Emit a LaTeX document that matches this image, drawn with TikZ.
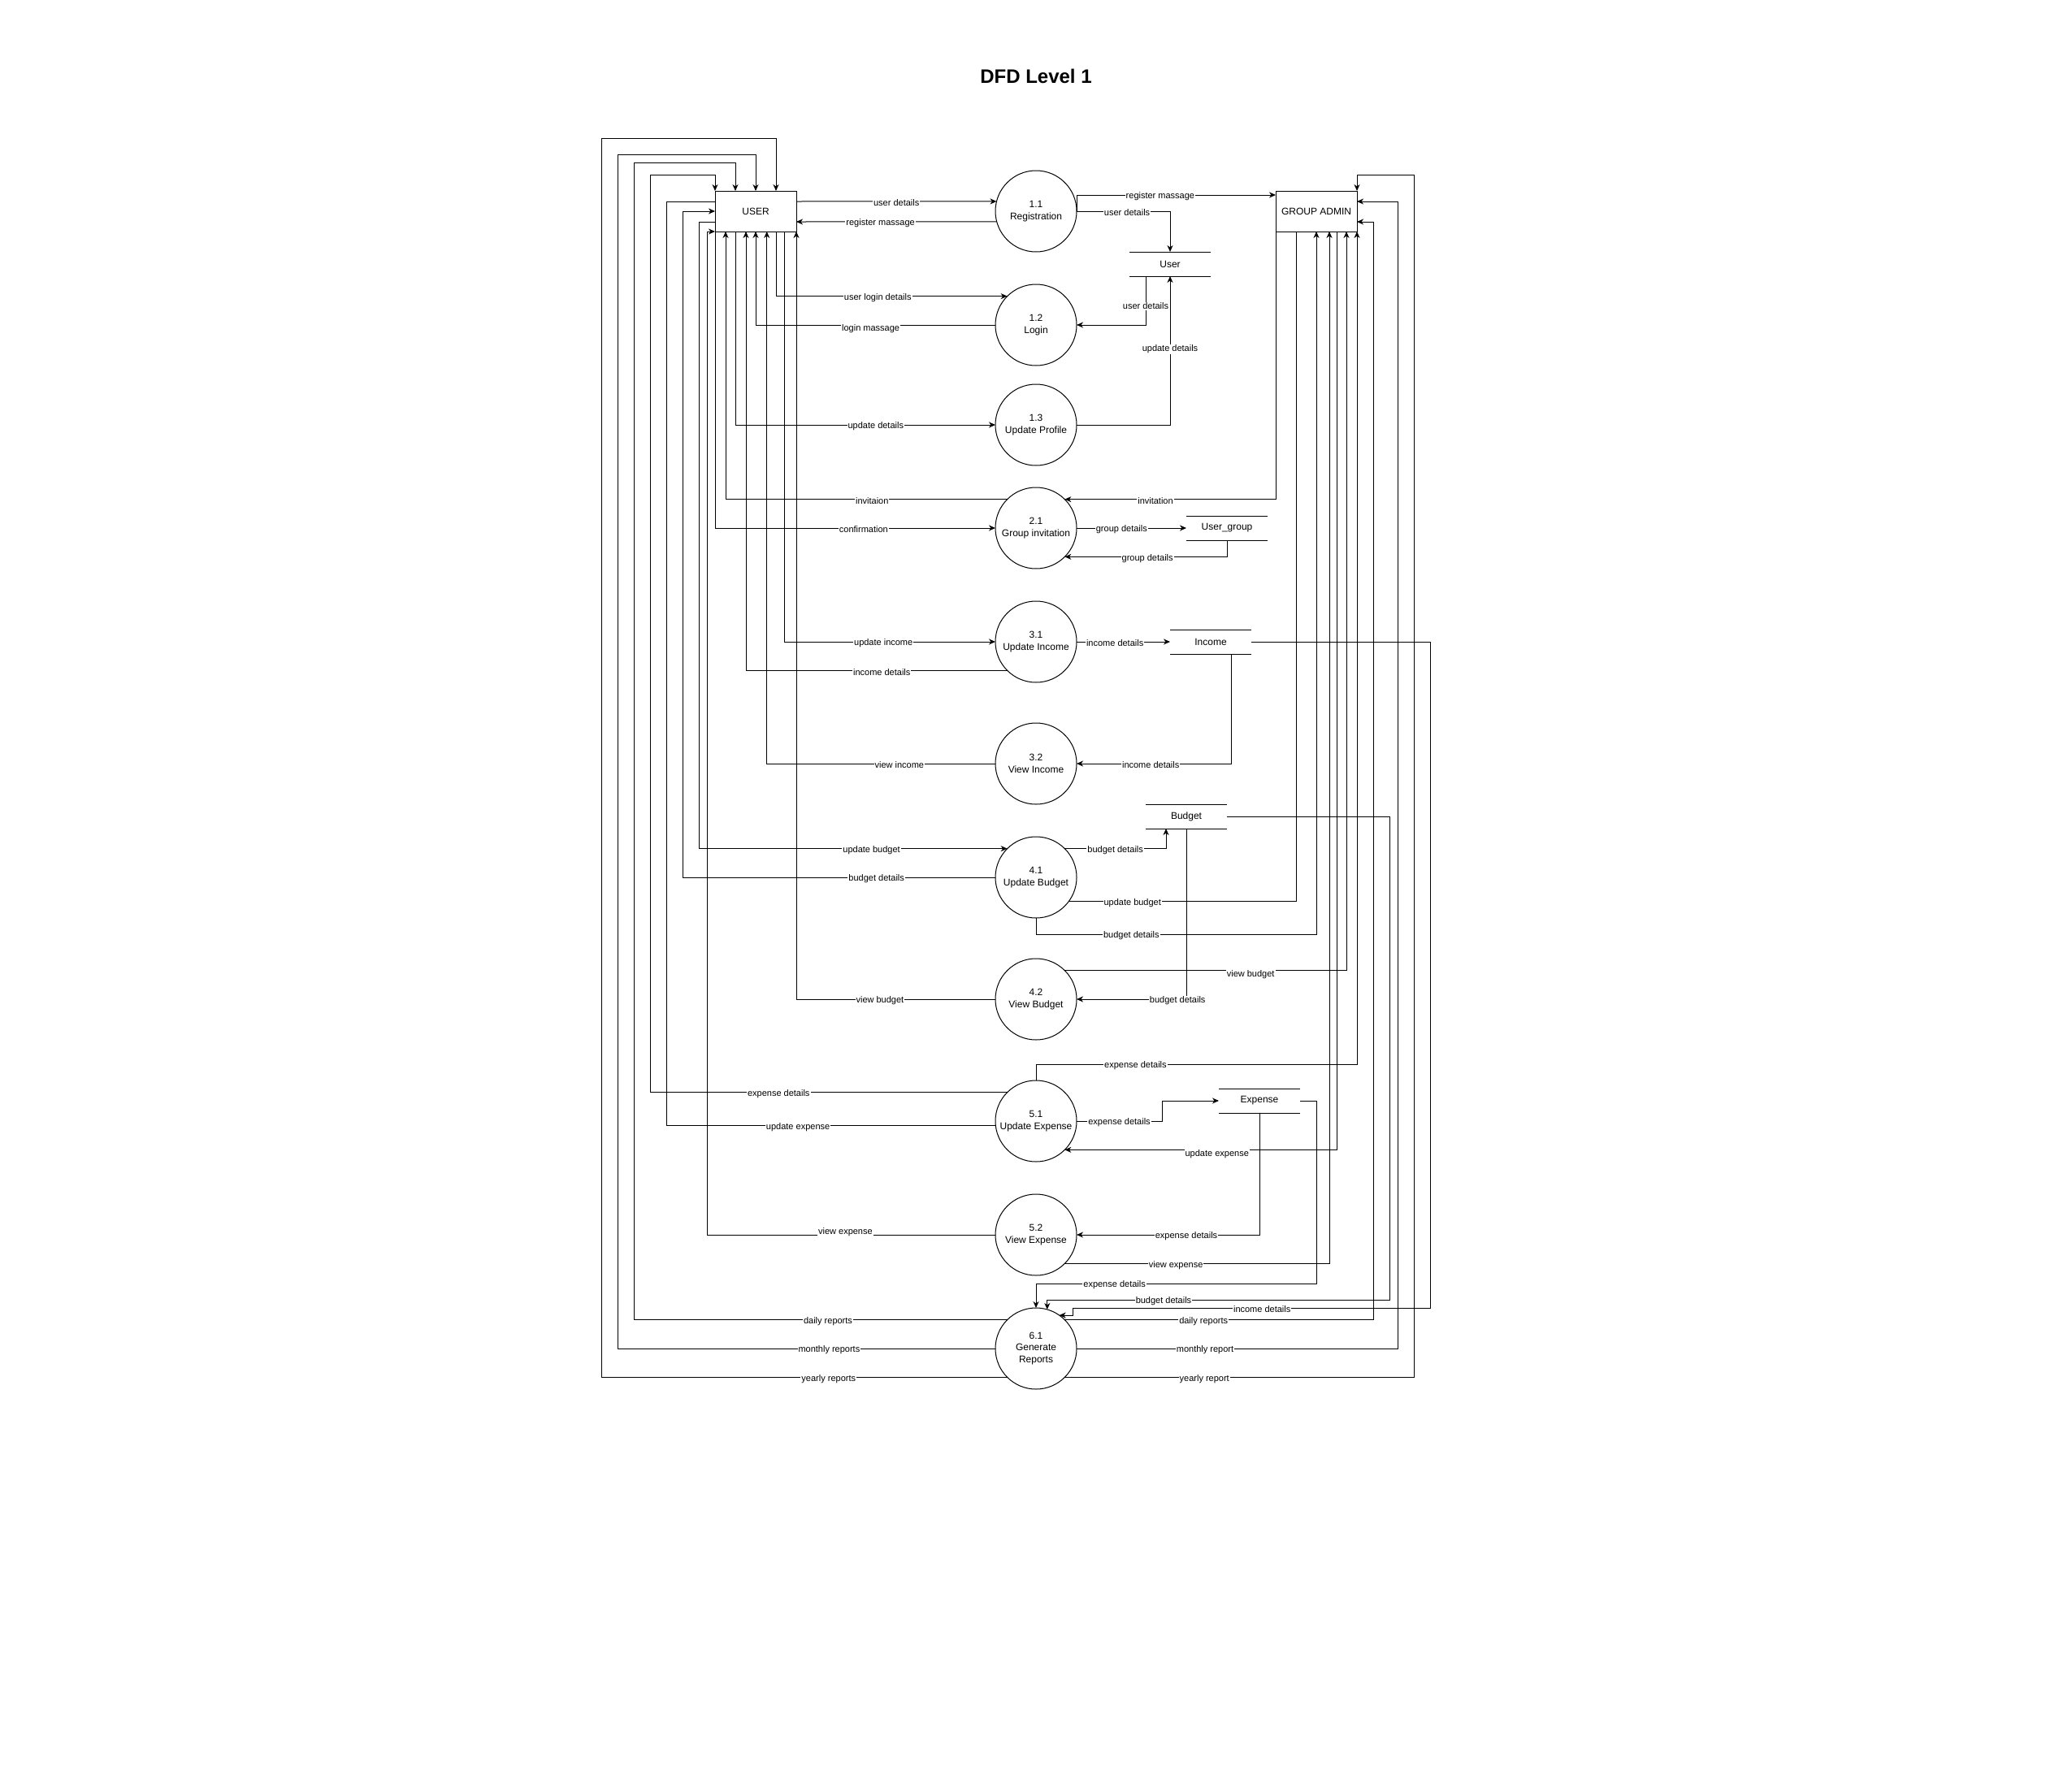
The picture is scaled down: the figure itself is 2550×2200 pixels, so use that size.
\documentclass[tikz,border=0pt]{standalone}
\usepackage{fontspec}
\setmainfont{Liberation Sans}
\usetikzlibrary{arrows.meta,calc}

\begin{document}
\begin{tikzpicture}[x=1pt,y=-1pt,
  line width=1pt,
  every node/.style={font=\fontsize{12}{15}\selectfont},
  entity/.style={draw, rectangle, minimum width=100pt, minimum height=50pt, inner sep=0pt, outer sep=0pt},
  process/.style={draw, circle, minimum size=100pt, inner sep=0pt, outer sep=0pt, align=center},
  datastore/.style={rectangle, minimum width=100pt, minimum height=30pt, inner sep=0pt, outer sep=0pt},
  flow/.style={-{Stealth[length=8pt,width=7pt,inset=2.5pt]}},
  lbl/.style={fill=white, inner sep=1pt, yshift=-2pt, font=\fontsize{11}{13}\selectfont},
]
\fill[white] (0,0) rectangle (2550,2200);
\useasboundingbox (0,0) rectangle (2550,2200);

% title
\node[font=\fontsize{24}{28}\selectfont\bfseries] (title) at (1275,94) {DFD Level 1};

% external entities
\node[entity] (user) at (930,260) {USER};
\node[entity] (ga) at (1620,260) {GROUP ADMIN};

% processes
\node[process] (p11) at (1275,260)  {1.1\\Registration};
\node[process] (p12) at (1275,400)  {1.2\\Login};
\node[process] (p13) at (1275,523)  {1.3\\Update Profile};
\node[process] (p21) at (1275,650)  {2.1\\Group invitation};
\node[process] (p31) at (1275,790)  {3.1\\Update Income};
\node[process] (p32) at (1275,940)  {3.2\\View Income};
\node[process] (p41) at (1275,1080) {4.1\\Update Budget};
\node[process] (p42) at (1275,1230) {4.2\\View Budget};
\node[process] (p51) at (1275,1380) {5.1\\Update Expense};
\node[process] (p52) at (1275,1520) {5.2\\View Expense};
\node[process, font=\fontsize{12}{14.5}\selectfont] (p61) at (1275,1660) {6.1\\Generate\\Reports};

% data stores
\node[datastore] (sUser)    at (1440,325)  {User};
\node[datastore] (sGroup)   at (1510,650)  {User\_group};
\node[datastore] (sIncome)  at (1490,790)  {Income};
\node[datastore] (sBudget)  at (1460,1005) {Budget};
\node[datastore] (sExpense) at (1550,1355) {Expense};
\foreach \s in {sUser,sGroup,sIncome,sBudget,sExpense} {
  \draw (\s.north west) -- (\s.north east) (\s.south west) -- (\s.south east);
}

% 1.x registration / login / profile
\draw[flow] ([yshift=12pt]user.east) -- node[lbl]{user details} (p11.166);
\draw[flow] (p11.195) -- node[lbl,pos=0.58]{register massage} ([yshift=-13pt]user.east);
\draw[flow] (p11.east) |- node[lbl,pos=0.71]{register massage} ([yshift=20pt]ga.west);
\draw[flow] (p11.east) -| node[lbl,pos=0.27]{user details} (sUser.north);
\draw[flow] ([xshift=25pt]user.south) |- node[lbl,pos=0.72]{user login details} (p12.north west);
\draw[flow] (p12.west) -| node[lbl,pos=0.26,yshift=-3pt]{login massage} (user.south);
\draw[flow] ([xshift=-30pt]sUser.south) |- node[lbl,pos=0.29]{user details} (p12.east);
\draw[flow] ([xshift=-25pt]user.south) |- node[lbl,pos=0.77]{update details} (p13.west);
\draw[flow] (p13.east) -| node[lbl,pos=0.76]{update details} (sUser.south);

% 2.1 group invitation
\draw[flow] (ga.south west) |- node[lbl,pos=0.785]{invitation} (p21.north east);
\draw[flow] (p21.north west) -| node[lbl,pos=0.24]{invitaion} ([xshift=-37pt]user.south);
\draw[flow] (user.south west) |- node[lbl,pos=0.765]{confirmation} (p21.west);
\draw[flow] (p21.east) -- node[lbl,pos=0.41]{group details} (sGroup.west);
\draw[flow] (sGroup.south) |- node[lbl,pos=0.745]{group details} (p21.south east);

% 3.x income
\draw[flow] ([xshift=35pt]user.south) |- node[lbl,pos=0.735]{update income} (p31.west);
\draw[flow] (p31.south west) -| node[lbl,pos=0.24]{income details} ([xshift=-12pt]user.south);
\draw[flow] (p31.east) -- node[lbl,pos=0.41]{income details} (sIncome.west);
\draw[flow] ([xshift=25pt]sIncome.south) |- node[lbl,pos=0.76]{income details} (p32.east);
\draw[flow] (p32.west) -| node[lbl,pos=0.21]{view income} ([xshift=13.7pt]user.south);
\draw[flow] (sIncome.east) -| (1760,1610) -- node[lbl,pos=0.47]{income details} (1320,1610) |- (p61.55);

% 4.x budget
\draw[flow] ([yshift=-13pt]user.west) -- ++(-20,0) |- node[lbl,pos=0.78]{update budget} (p41.north west);
\draw[flow] (p41.west) -| node[lbl,pos=0.19]{budget details} ([xshift=-40pt]user.west) -- (user.west);
\draw[flow] (p41.north east) -| node[lbl,pos=0.25]{budget details} ([xshift=-25pt]sBudget.south);
\draw (p41.-36) -| node[lbl,pos=0.14]{update budget} ([xshift=-25pt]ga.south);
\draw[flow] (p41.south) -- ++(0,20) -| node[lbl,pos=0.17]{budget details} (ga.south);
\draw[flow] (p42.north east) -| node[lbl,pos=0.33,yshift=-3pt]{view budget} ([xshift=37pt]ga.south);
\draw[flow] (p42.west) -| node[lbl,pos=0.29]{view budget} (user.south east);
\draw[flow] (sBudget.south) |- node[lbl,pos=0.54]{budget details} (p42.east);
\draw[flow] (sBudget.east) -| (1710,1600) -| node[lbl,pos=0.33]{budget details} (p61.74);

% 5.x expense
\draw[flow] (p51.north) -- ++(0,-20) -| node[lbl,pos=0.155]{expense details} (ga.south east);
\draw[flow] (p51.north west) -| node[lbl,pos=0.32]{expense details} (800,215) -| (user.north west);
\draw ([yshift=12pt]user.west) -- ++(-60,0) |- node[lbl,pos=0.70]{update expense} (p51.186);
\draw[flow] (p51.east) -- node[lbl]{expense details} ++(105,0) |- (sExpense.west);
\draw[flow] ([xshift=25pt]ga.south) |- node[lbl,pos=0.72,yshift=-3pt]{update expense} (p51.south east);
\draw[flow] (sExpense.south) |- node[lbl,pos=0.7]{expense details} (p52.east);
\draw[flow] (p52.west) -| node[lbl,pos=0.26,yshift=5pt]{view expense} ([xshift=-10pt]user.south west) -- (user.south west);
\draw[flow] (p52.south east) -| node[lbl,pos=0.21]{view expense} ([xshift=16pt]ga.south);
\draw[flow] (sExpense.east) -| (1620,1580) -| node[lbl,pos=0.36]{expense details} (p61.north);

% 6.1 reports
\draw[flow] (p61.north west) -| node[lbl,pos=0.24]{daily reports} (780,200) -| ([xshift=-25pt]user.north);
\draw[flow] (p61.west) -| node[lbl,pos=0.22]{monthly reports} (760,190) -| (user.north);
\draw[flow] (p61.south west) -| node[lbl,pos=0.22]{yearly reports} (740,170) -| ([xshift=25pt]user.north);
\draw[flow] (p61.north east) -| node[lbl,pos=0.225]{daily reports} ([xshift=20pt,yshift=-13pt]ga.east) -- ([yshift=-13pt]ga.east);
\draw[flow] (p61.east) -| node[lbl,pos=0.2]{monthly report} ([xshift=50pt,yshift=12pt]ga.east) -- ([yshift=12pt]ga.east);
\draw[flow] (p61.south east) -| node[lbl,pos=0.2]{yearly report} (1740,215) -| (ga.north east);
\end{tikzpicture}
\end{document}
